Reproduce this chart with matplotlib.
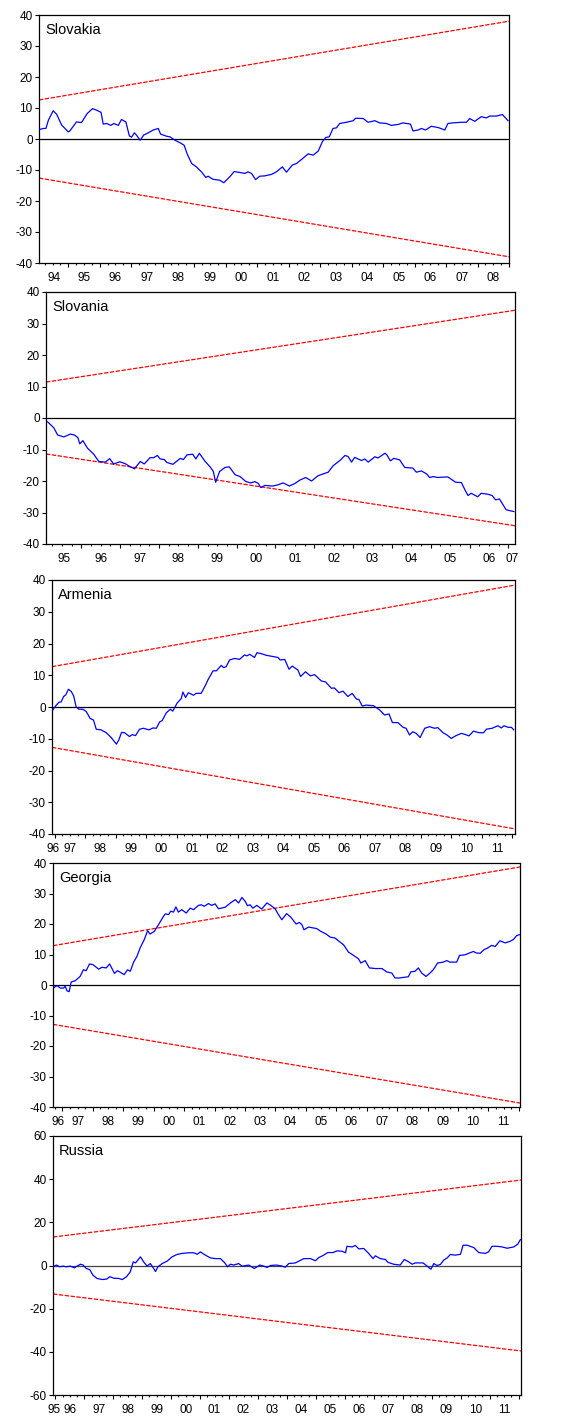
import matplotlib
matplotlib.use('Agg')
import matplotlib.pyplot as plt
import numpy as np

plt.rcParams['font.family'] = ['Liberation Sans', 'DejaVu Sans']

# ---- data (CUSUM of recursive residuals) ----
sk_year = [1994.10, 1994.21, 1994.29, 1994.37, 1994.52, 1994.63, 1994.79, 1995.00, 1995.05, 1995.26,
           1995.42, 1995.60, 1995.77, 1995.90, 1996.04, 1996.11, 1996.22, 1996.35, 1996.45, 1996.59,
           1996.69, 1996.83, 1996.94, 1997.01, 1997.10, 1997.17, 1997.28, 1997.40, 1997.54, 1997.70,
           1997.86, 1997.93, 1998.12, 1998.23, 1998.39, 1998.55, 1998.68, 1998.78, 1998.92, 1999.07,
           1999.23, 1999.37, 1999.44, 1999.60, 1999.81, 1999.94, 2000.13, 2000.27, 2000.45, 2000.61,
           2000.71, 2000.82, 2000.95, 2001.08, 2001.24, 2001.46, 2001.61, 2001.80, 2001.93, 2002.12,
           2002.25, 2002.41, 2002.62, 2002.78, 2002.94, 2003.07, 2003.18, 2003.29, 2003.41, 2003.52,
           2003.62, 2003.84, 2004.05, 2004.13, 2004.37, 2004.52, 2004.74, 2004.89, 2005.11, 2005.26,
           2005.48, 2005.63, 2005.87, 2005.95, 2006.11, 2006.22, 2006.35, 2006.53, 2006.75, 2006.96,
           2007.06, 2007.22, 2007.49, 2007.65, 2007.75, 2007.91, 2008.12, 2008.28, 2008.39, 2008.60,
           2008.79, 2008.97]
sk_cusum = [3.1, 3.4, 3.4, 6.1, 9.1, 8.0, 4.5, 2.3, 2.6, 5.5,
            5.3, 8.2, 9.8, 9.3, 8.6, 4.8, 5.0, 4.4, 5.0, 4.4,
            6.3, 5.5, 1.0, 0.6, 2.0, 1.2, -0.4, 1.3, 2.0, 2.9,
            3.4, 1.6, 0.9, 0.7, -0.4, -1.2, -2.0, -4.9, -7.9, -9.0,
            -10.6, -12.4, -12.0, -13.0, -13.3, -14.1, -12.2, -10.5, -10.8, -11.1,
            -10.6, -11.1, -13.1, -12.0, -11.9, -11.4, -10.6, -9.0, -10.7, -8.4,
            -7.9, -6.6, -4.8, -5.2, -3.9, -0.9, 0.5, 0.7, 3.4, 3.6,
            5.0, 5.4, 5.9, 6.7, 6.6, 5.4, 5.9, 5.2, 5.0, 4.4,
            4.7, 5.2, 4.8, 2.6, 2.9, 3.4, 2.9, 4.1, 3.7, 2.9,
            5.0, 5.2, 5.4, 5.4, 6.6, 5.7, 7.2, 6.8, 7.4, 7.4,
            7.9, 5.9]

si_year = [1995.13, 1995.29, 1995.39, 1995.55, 1995.72, 1995.82, 1995.91, 1995.96, 1996.04, 1996.16,
           1996.32, 1996.45, 1996.62, 1996.73, 1996.83, 1996.99, 1997.13, 1997.26, 1997.37, 1997.52,
           1997.62, 1997.77, 1997.86, 1997.96, 1998.03, 1998.14, 1998.20, 1998.36, 1998.55, 1998.63,
           1998.72, 1998.87, 1998.95, 1999.04, 1999.19, 1999.33, 1999.40, 1999.46, 1999.56, 1999.70,
           1999.81, 1999.96, 2000.09, 2000.24, 2000.36, 2000.47, 2000.56, 2000.62, 2000.73, 2000.93,
           2001.07, 2001.20, 2001.36, 2001.50, 2001.63, 2001.78, 2001.93, 2002.10, 2002.36, 2002.49,
           2002.66, 2002.79, 2002.87, 2002.96, 2003.04, 2003.22, 2003.30, 2003.39, 2003.56, 2003.64,
           2003.82, 2003.87, 2003.96, 2004.05, 2004.20, 2004.33, 2004.54, 2004.63, 2004.76, 2004.90,
           2004.97, 2005.06, 2005.19, 2005.27, 2005.44, 2005.64, 2005.79, 2005.90, 2005.96, 2006.04,
           2006.21, 2006.30, 2006.47, 2006.58, 2006.67, 2006.77, 2006.86, 2006.94, 2007.03, 2007.14]
si_cusum = [-1.2, -3.1, -5.4, -6.0, -5.1, -5.4, -6.2, -8.2, -7.2, -9.6,
            -11.5, -13.8, -14.0, -12.9, -14.6, -13.9, -14.5, -15.5, -16.1, -13.8,
            -14.6, -12.6, -12.6, -11.9, -13.0, -13.2, -14.1, -14.7, -12.8, -13.2,
            -11.7, -11.5, -13.0, -11.2, -13.8, -15.7, -17.0, -20.4, -17.0, -15.7,
            -15.5, -18.0, -18.6, -20.2, -20.6, -20.2, -20.8, -22.1, -21.4, -21.6,
            -21.2, -20.6, -21.6, -20.8, -19.7, -18.9, -20.0, -18.3, -17.2, -15.1,
            -13.5, -11.9, -12.2, -14.0, -12.5, -13.5, -13.0, -14.0, -12.3, -12.7,
            -11.2, -11.7, -13.6, -12.8, -13.3, -15.7, -15.9, -17.2, -16.8, -17.8,
            -18.9, -18.6, -18.9, -18.8, -18.7, -20.4, -20.5, -23.3, -24.6, -23.9,
            -25.0, -23.9, -24.2, -24.6, -26.0, -25.7, -27.5, -29.1, -29.4, -29.7]

am_year = [1996.94, 1997.05, 1997.14, 1997.21, 1997.29, 1997.36, 1997.45, 1997.54, 1997.62, 1997.70,
           1997.79, 1997.92, 1998.03, 1998.16, 1998.27, 1998.36, 1998.52, 1998.69, 1998.85, 1999.02,
           1999.10, 1999.19, 1999.29, 1999.45, 1999.54, 1999.65, 1999.78, 1999.91, 2000.09, 2000.22,
           2000.33, 2000.44, 2000.52, 2000.66, 2000.79, 2000.87, 2001.01, 2001.15, 2001.20, 2001.29,
           2001.38, 2001.55, 2001.64, 2001.80, 2001.95, 2002.02, 2002.19, 2002.30, 2002.46, 2002.54,
           2002.62, 2002.73, 2002.90, 2003.06, 2003.22, 2003.30, 2003.39, 2003.55, 2003.63, 2003.77,
           2003.93, 2004.15, 2004.32, 2004.39, 2004.54, 2004.68, 2004.79, 2004.90, 2004.97, 2005.06,
           2005.22, 2005.38, 2005.52, 2005.74, 2005.88, 2006.07, 2006.17, 2006.32, 2006.45, 2006.61,
           2006.75, 2006.89, 2006.97, 2007.08, 2007.21, 2007.45, 2007.65, 2007.81, 2007.96, 2008.07,
           2008.25, 2008.42, 2008.52, 2008.63, 2008.74, 2008.85, 2008.98, 2009.13, 2009.29, 2009.45,
           2009.56, 2009.73, 2009.86, 2010.00, 2010.14, 2010.33, 2010.47, 2010.58, 2010.73, 2010.91,
           2011.06, 2011.15, 2011.34, 2011.53, 2011.64, 2011.73, 2011.86, 2011.97, 2012.05]
am_cusum = [-0.9, 0.6, 1.5, 1.6, 3.3, 3.8, 5.6, 4.9, 3.5, 0.1,
            -0.7, -0.7, -1.4, -3.6, -4.1, -7.0, -7.2, -8.1, -9.6, -11.7,
            -10.4, -8.0, -8.1, -9.3, -8.7, -9.0, -7.0, -6.7, -7.2, -6.6,
            -6.7, -4.7, -4.3, -1.8, -0.7, -1.3, 1.2, 2.7, 4.7, 3.0,
            4.5, 3.7, 4.3, 4.3, 7.0, 8.5, 11.4, 11.4, 13.1, 12.4,
            12.7, 14.8, 15.3, 15.0, 16.4, 16.1, 16.6, 15.6, 17.1, 16.8,
            16.3, 15.9, 15.6, 14.8, 15.0, 11.9, 12.9, 12.1, 11.7, 9.6,
            11.1, 9.8, 10.2, 8.2, 7.9, 5.9, 6.0, 4.5, 5.0, 3.3,
            4.3, 2.5, 2.4, 0.3, 0.6, 0.4, -0.9, -2.5, -2.2, -4.9,
            -4.9, -6.4, -6.7, -8.8, -7.8, -8.3, -9.6, -6.7, -6.2, -6.7,
            -6.5, -8.1, -8.8, -9.9, -9.1, -8.3, -8.7, -9.1, -7.6, -8.1,
            -8.1, -7.0, -6.7, -5.9, -6.6, -5.9, -6.4, -6.4, -7.2]

ge_year = [1996.73, 1996.82, 1996.93, 1997.04, 1997.09, 1997.15, 1997.22, 1997.29, 1997.42, 1997.58,
           1997.69, 1997.78, 1997.89, 1998.00, 1998.19, 1998.30, 1998.44, 1998.55, 1998.71, 1998.81,
           1999.03, 1999.14, 1999.23, 1999.34, 1999.45, 1999.56, 1999.69, 1999.80, 1999.88, 2000.02,
           2000.16, 2000.32, 2000.38, 2000.49, 2000.56, 2000.65, 2000.73, 2000.81, 2000.92, 2001.07,
           2001.20, 2001.31, 2001.47, 2001.56, 2001.66, 2001.80, 2001.91, 2002.02, 2002.13, 2002.35,
           2002.51, 2002.68, 2002.79, 2002.90, 2003.01, 2003.08, 2003.17, 2003.26, 2003.39, 2003.55,
           2003.72, 2003.85, 2003.99, 2004.10, 2004.21, 2004.37, 2004.51, 2004.68, 2004.79, 2004.87,
           2004.94, 2005.09, 2005.25, 2005.36, 2005.49, 2005.67, 2005.80, 2005.96, 2006.07, 2006.24,
           2006.40, 2006.57, 2006.73, 2006.81, 2006.95, 2007.09, 2007.28, 2007.50, 2007.66, 2007.83,
           2007.93, 2008.08, 2008.21, 2008.37, 2008.45, 2008.59, 2008.70, 2008.81, 2008.95, 2009.08,
           2009.19, 2009.33, 2009.52, 2009.63, 2009.74, 2009.96, 2010.05, 2010.23, 2010.38, 2010.51,
           2010.60, 2010.73, 2010.86, 2010.97, 2011.11, 2011.22, 2011.38, 2011.55, 2011.71, 2011.82,
           2011.93, 2012.02]
ge_cusum = [-0.8, -0.2, -1.0, -1.0, -0.4, -1.9, -2.2, 1.0, 1.4, 2.8,
            5.0, 4.7, 6.9, 6.7, 5.2, 5.8, 5.6, 6.9, 3.8, 4.7,
            3.4, 5.0, 4.5, 7.5, 9.4, 12.3, 14.9, 17.8, 16.7, 17.6,
            19.8, 22.5, 23.3, 23.1, 24.2, 23.9, 25.6, 23.9, 24.7, 23.6,
            25.2, 24.7, 26.1, 26.3, 25.8, 26.7, 26.1, 26.6, 25.0, 25.5,
            26.8, 28.0, 26.9, 28.7, 27.4, 26.0, 26.3, 25.2, 26.1, 24.9,
            26.9, 26.1, 25.0, 23.1, 21.4, 23.4, 22.2, 20.0, 20.5, 19.8,
            18.1, 19.0, 18.7, 18.5, 17.6, 16.7, 15.7, 15.4, 14.5, 13.2,
            10.8, 9.7, 8.6, 7.2, 8.0, 5.6, 5.4, 5.4, 4.3, 3.9,
            2.3, 2.3, 2.5, 2.7, 4.3, 4.5, 5.6, 3.9, 2.8, 3.9,
            5.0, 7.2, 7.5, 8.0, 7.5, 7.5, 9.7, 9.9, 10.5, 11.0,
            10.5, 10.4, 11.6, 12.1, 13.0, 12.6, 14.5, 13.8, 14.3, 14.9,
            16.2, 16.5]

ru_year = [1995.95, 1996.04, 1996.15, 1996.27, 1996.38, 1996.52, 1996.66, 1996.75, 1996.87, 1996.96,
           1997.07, 1997.19, 1997.30, 1997.44, 1997.62, 1997.77, 1997.88, 1998.02, 1998.19, 1998.31,
           1998.46, 1998.59, 1998.69, 1998.77, 1998.94, 1999.05, 1999.17, 1999.28, 1999.36, 1999.46,
           1999.54, 1999.69, 1999.86, 2000.03, 2000.20, 2000.38, 2000.61, 2000.78, 2000.90, 2001.01,
           2001.18, 2001.36, 2001.53, 2001.70, 2001.84, 2001.95, 2002.05, 2002.16, 2002.33, 2002.45,
           2002.68, 2002.87, 2003.06, 2003.20, 2003.31, 2003.43, 2003.63, 2003.81, 2003.94, 2004.06,
           2004.29, 2004.58, 2004.81, 2004.98, 2005.10, 2005.24, 2005.41, 2005.59, 2005.73, 2005.90,
           2006.02, 2006.07, 2006.25, 2006.36, 2006.48, 2006.65, 2006.82, 2006.97, 2007.05, 2007.22,
           2007.40, 2007.48, 2007.68, 2007.91, 2008.05, 2008.20, 2008.32, 2008.43, 2008.70, 2008.84,
           2008.97, 2009.07, 2009.18, 2009.30, 2009.41, 2009.53, 2009.64, 2009.81, 2009.99, 2010.08,
           2010.22, 2010.45, 2010.62, 2010.85, 2010.96, 2011.08, 2011.25, 2011.43, 2011.60, 2011.83,
           2011.97, 2012.06]
ru_cusum = [-0.3, 0.2, -0.6, -0.3, -0.6, -0.3, -1.1, -0.3, 0.6, 0.2,
            -1.4, -1.9, -4.5, -6.0, -6.5, -6.3, -5.2, -5.9, -6.0, -6.5,
            -5.2, -2.9, 1.7, 1.2, 4.0, 1.7, -0.3, 0.9, -0.6, -2.8,
            -0.6, 0.9, 2.0, 4.0, 5.1, 5.6, 5.9, 5.9, 5.2, 6.3,
            4.8, 3.5, 3.2, 3.2, 1.4, -0.6, 0.6, 0.2, 0.9, -0.3,
            0.2, -1.4, 0.2, -0.3, -0.9, 0.0, 0.2, -0.2, -0.8, 0.9,
            1.2, 3.2, 3.2, 2.2, 3.7, 4.6, 6.0, 6.0, 6.8, 6.6,
            5.9, 8.9, 8.6, 9.3, 7.7, 7.9, 5.6, 3.2, 4.5, 3.2,
            2.8, 1.5, 0.6, 0.2, 2.8, 1.7, 0.6, 1.2, 1.2, -0.3,
            -1.7, 0.9, 0.0, 0.5, 2.5, 3.5, 5.1, 4.8, 5.2, 9.4,
            9.4, 8.3, 6.0, 5.6, 6.3, 8.9, 8.9, 8.6, 8.0, 8.6,
            9.9, 12.0]

# sample span, 5% band at start / end of sample
countries = ['Slovakia', 'Slovania', 'Armenia', 'Georgia', 'Russia']
samples = [(1994.07, 2009.00), (1995.09, 2007.17), (1996.91, 2012.09),
           (1996.69, 2012.04), (1995.92, 2012.08)]
band_start = [12.6, 11.4, 12.7, 12.9, 13.2]
band_end = [38.0, 34.2, 38.4, 38.7, 39.6]
y_lims = [(-40, 40), (-40, 40), (-40, 40), (-40, 40), (-60, 60)]
y_steps = [10, 10, 10, 10, 20]
year_labels = [['94', '95', '96', '97', '98', '99', '00', '01', '02', '03', '04', '05', '06', '07', '08'],
               ['95', '96', '97', '98', '99', '00', '01', '02', '03', '04', '05', '06', '07'],
               ['96', '97', '98', '99', '00', '01', '02', '03', '04', '05', '06', '07', '08', '09', '10', '11'],
               ['96', '97', '98', '99', '00', '01', '02', '03', '04', '05', '06', '07', '08', '09', '10', '11'],
               ['95', '96', '97', '98', '99', '00', '01', '02', '03', '04', '05', '06', '07', '08', '09', '10', '11']]
series = [(sk_year, sk_cusum), (si_year, si_cusum), (am_year, am_cusum),
          (ge_year, ge_cusum), (ru_year, ru_cusum)]

# axes boxes in pixels: left, right, top, bottom
W, H = 566, 1416
boxes = [(39, 509, 15, 263), (46, 515, 292, 544), (52, 515, 580, 834),
         (53, 520, 863, 1107), (53, 521, 1136, 1395)]

fig = plt.figure(figsize=(W / 100, H / 100), dpi=100)

for i in range(5):
    l, r, t, b = boxes[i]
    ax = fig.add_axes([l / W, 1 - b / H, (r - l) / W, (b - t) / H])
    x0, x1 = samples[i]
    yrs, vals = series[i]

    ax.plot(yrs, vals, color='#0000ff', lw=0.9, zorder=3)
    ax.plot([x0, x1], [band_start[i], band_end[i]], color='#ff0000', lw=0.9,
            dashes=(3.5, 1.2), zorder=2)
    ax.plot([x0, x1], [-band_start[i], -band_end[i]], color='#ff0000', lw=0.9,
            dashes=(3.5, 1.2), zorder=2)
    ax.axhline(0, color='black' if i < 4 else '#444444', lw=0.9, zorder=1)

    ax.set_xlim(x0, x1)
    ax.set_ylim(*y_lims[i])
    ylo, yhi = y_lims[i]
    yt = np.arange(ylo, yhi + 1, y_steps[i])
    ax.set_yticks(yt)
    ax.set_yticklabels([str(v) for v in yt], fontsize=8.5)

    # year boundaries as major ticks, quarters as minor ticks
    major = [y for y in range(int(np.ceil(x0)), int(np.floor(x1)) + 1)]
    minor = [q for q in np.arange(np.floor(x0), x1, 0.25) if x0 <= q <= x1 and q % 1 != 0]
    ax.set_xticks(major)
    ax.set_xticklabels([])
    ax.set_xticks(minor, minor=True)
    ax.tick_params(axis='x', which='major', length=3.2, width=0.8, direction='out')
    ax.tick_params(axis='x', which='minor', length=1.6, width=0.8, direction='out')
    ax.tick_params(axis='y', length=3, width=0.8, direction='out', pad=1.5)
    ax.tick_params(top=False, right=False)

    for lab in year_labels[i]:
        yr = int(lab)
        yr = yr + 1900 if yr > 50 else yr + 2000
        lo, hi = max(yr, x0), min(yr + 1, x1)
        ax.annotate(lab, xy=((lo + hi) / 2, 0), xycoords=('data', 'axes fraction'),
                    xytext=(0, -9), textcoords='offset pixels',
                    ha='center', va='top', fontsize=8.5, annotation_clip=False)

    for s in ax.spines.values():
        s.set_linewidth(0.9)

    ax.annotate(countries[i], xy=(0, 1), xycoords='axes fraction',
                xytext=(6, -8), textcoords='offset pixels',
                ha='left', va='top', fontsize=10.5)

fig.savefig('out.png', dpi=100)
